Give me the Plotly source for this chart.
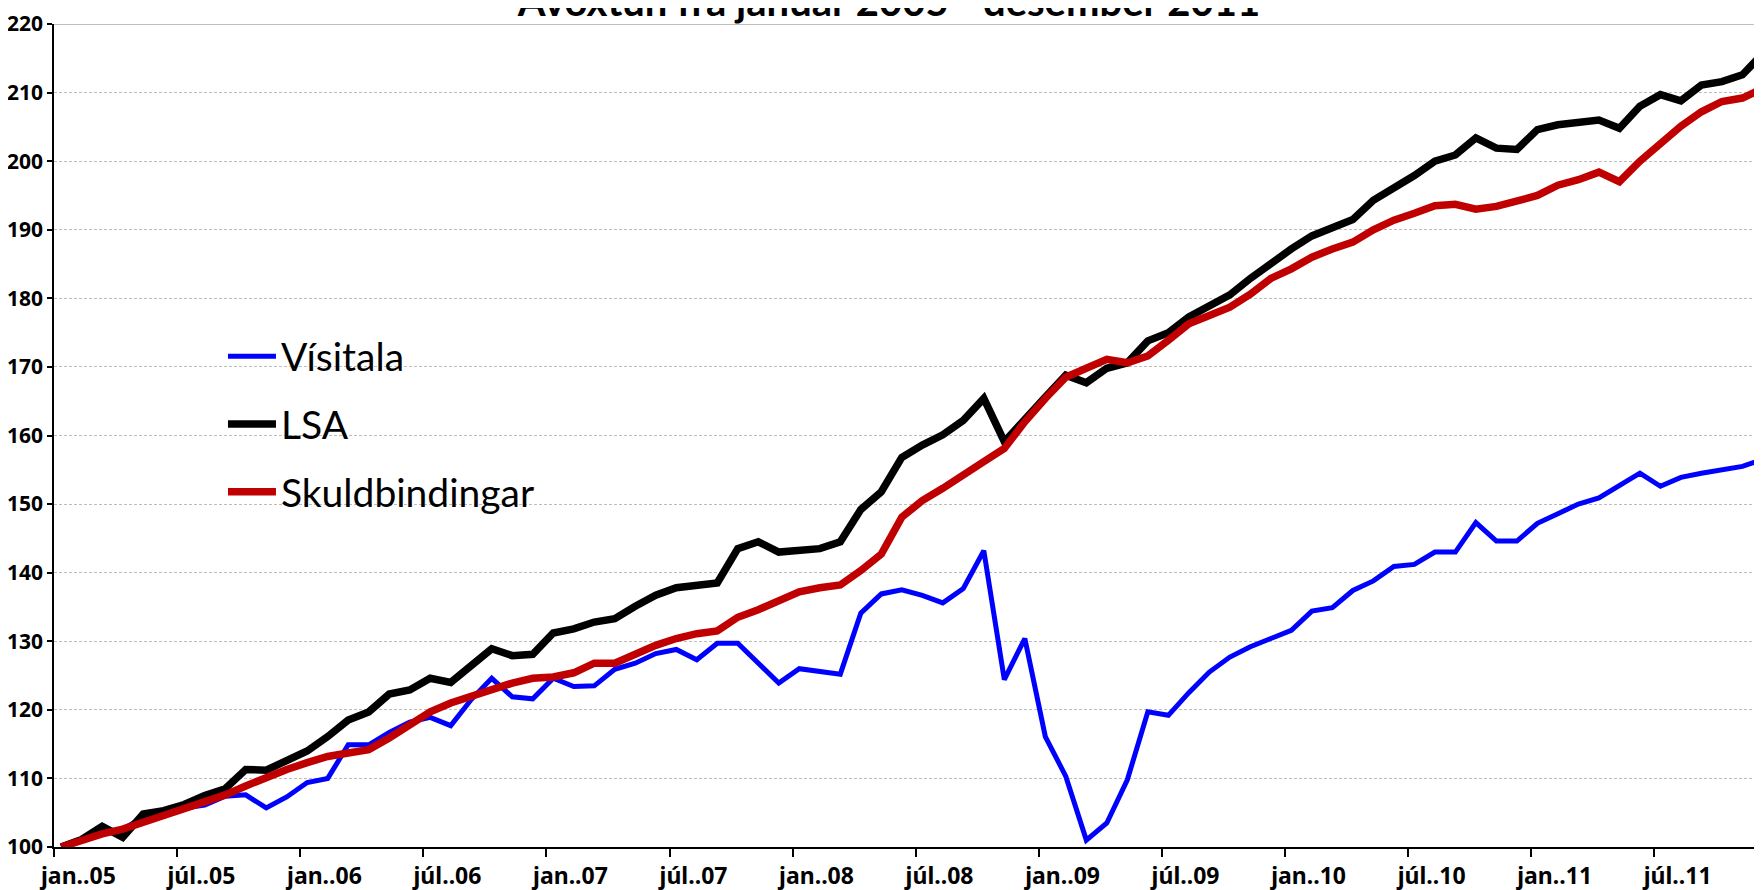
import plotly.graph_objects as go

months = list(range(84))  # jan 2005 .. des 2011

visitala = [
    100.0, 101.0, 102.0, 102.6, 104.3, 104.5, 105.7, 106.1, 107.4, 107.6,
    105.7, 107.3, 109.4, 110.0, 114.9, 114.9, 116.7, 118.2, 118.9, 117.7,
    121.5, 124.6, 121.9, 121.6, 124.6, 123.4, 123.5, 125.9, 126.8, 128.2,
    128.8, 127.3, 129.7, 129.7, 126.8, 123.9, 126.0, 125.6, 125.2, 134.1,
    136.9, 137.5, 136.7, 135.6, 137.7, 143.2, 124.4, 130.4, 116.1, 110.3,
    101.0, 103.5, 109.8, 119.7, 119.2, 122.5, 125.5, 127.7, 129.2, 130.4,
    131.6, 134.4, 134.9, 137.4, 138.8, 140.9, 141.2, 143.0, 143.0, 147.3,
    144.6, 144.6, 147.2, 148.6, 150.0, 150.9, 152.7, 154.5, 152.6, 153.9,
    154.5, 155.0, 155.5, 156.5,
]

lsa = [
    100.0, 101.1, 103.0, 101.4, 104.8, 105.3, 106.2, 107.5, 108.5, 111.3,
    111.2, 112.5, 114.0, 116.1, 118.5, 119.7, 122.3, 122.9, 124.6, 124.0,
    126.3, 128.9, 127.9, 128.1, 131.2, 131.8, 132.8, 133.3, 135.1, 136.7,
    137.8, 138.1, 138.5, 143.5, 144.5, 143.0, 143.2, 143.5, 144.5, 149.2,
    151.8, 156.8, 158.6, 160.1, 162.2, 165.4, 159.1, 162.5, 165.6, 168.8,
    167.7, 169.8, 170.6, 173.8, 175.0, 177.3, 178.8, 180.5, 182.9, 185.2,
    187.2, 189.1, 190.4, 191.5, 194.3, 196.0, 197.9, 200.0, 200.9, 203.4,
    201.9, 201.7, 204.6, 205.3, 205.7, 206.0, 204.8, 208.0, 209.7, 208.8,
    211.1, 211.6, 212.6, 215.7,
]

skuldbindingar = [
    100.0, 101.0, 101.9, 102.6, 103.5, 104.6, 105.6, 106.6, 107.6, 108.9,
    110.2, 111.3, 112.3, 113.2, 113.7, 114.2, 115.9, 117.8, 119.7, 121.0,
    122.0, 122.8, 123.9, 124.6, 124.8, 125.4, 126.8, 126.8, 128.1, 129.4,
    130.4, 131.1, 131.5, 133.5, 134.6, 135.9, 137.2, 137.8, 138.2, 140.3,
    142.7, 148.1, 150.5, 152.3, 154.1, 156.2, 158.1, 162.0, 165.4, 168.5,
    169.8, 171.1, 170.6, 171.6, 173.9, 176.3, 177.5, 178.7, 180.6, 182.9,
    184.3, 186.0, 187.2, 188.2, 190.0, 191.4, 192.4, 193.5, 193.7, 193.0,
    193.4, 194.1, 195.0, 196.5, 197.3, 198.4, 197.0, 200.0, 202.7, 205.1,
    207.2, 208.7, 209.2, 210.6,
]

tick_months = [0, 6, 12, 18, 24, 30, 36, 42, 48, 54, 60, 66, 72, 78]
tick_labels = ["jan..05", "júl..05", "jan..06", "júl..06", "jan..07", "júl..07",
               "jan..08", "júl..08", "jan..09", "júl..09", "jan..10", "júl..10",
               "jan..11", "júl..11"]
y_ticks = [100, 110, 120, 130, 140, 150, 160, 170, 180, 190, 200, 210, 220]

title_text = "Ávöxtun frá janúar 2005 - desember 2011"

series = [
    ("Vísitala", visitala, "#0000FF", 5),
    ("LSA", lsa, "#000000", 7.5),
    ("Skuldbindingar", skuldbindingar, "#C00000", 7.5),
]

FONT = "Lato, Arial, sans-serif"
BOLD_FONT = "Noto Sans, DejaVu Sans, sans-serif"

fig = go.Figure()
for name, vals, color, w in series:
    fig.add_trace(go.Scatter(
        x=months, y=vals, name=name, mode="lines",
        line=dict(color=color, width=w, shape="linear"),
        legendgroup=name,
    ))

# tick marks sit a third of a month left of each labelled month
tick_pos = [m - 0.33 for m in tick_months]

fig.update_layout(
    width=1762, height=890,
    margin=dict(l=46, r=4, t=16, b=51),
    paper_bgcolor="white", plot_bgcolor="white",
    font=dict(family=FONT, color="#000000"),
    title=dict(text="<b>" + title_text + "</b>", x=0.5, xanchor="center",
               y=0.991, yanchor="bottom", yref="container", automargin=False,
               font=dict(size=40, family=FONT)),
    legend=dict(x=0.0987, y=0.635, xanchor="left", yanchor="top",
                bgcolor="rgba(0,0,0,0)", font=dict(size=39, family=FONT),
                itemwidth=48, tracegroupgap=14),
    showlegend=True,
)

fig.update_xaxes(
    range=[-0.35, 83.15], automargin=False,
    tickmode="array", tickvals=tick_pos,
    ticktext=["<b>" + t + "</b>" for t in tick_labels],
    ticks="outside", ticklen=8, tickwidth=1.5, tickcolor="#000000",
    showline=True, linecolor="#000000", linewidth=1.5,
    showgrid=False, zeroline=False,
    tickfont=dict(size=23, family=BOLD_FONT),
    ticklabelshift=24,
)
fig.update_yaxes(
    range=[100, 220], automargin=False,
    tickmode="array", tickvals=y_ticks,
    ticktext=["<b>" + str(v) + "</b>" for v in y_ticks],
    ticks="outside", ticklen=5, tickwidth=1.5, tickcolor="#000000",
    showline=True, linecolor="#000000", linewidth=1.5,
    showgrid=True, gridcolor="#BDBDBD", gridwidth=1, griddash="3px,2px",
    zeroline=False, ticklabeloverflow="allow",
    tickfont=dict(size=21, family=BOLD_FONT),
)

# solid top border of the plot area at the 220 level
fig.add_shape(type="line", xref="paper", x0=0, x1=1, yref="y", y0=220, y1=220,
              line=dict(color="#BFBFBF", width=2), layer="below")

fig.write_html("out.html")
